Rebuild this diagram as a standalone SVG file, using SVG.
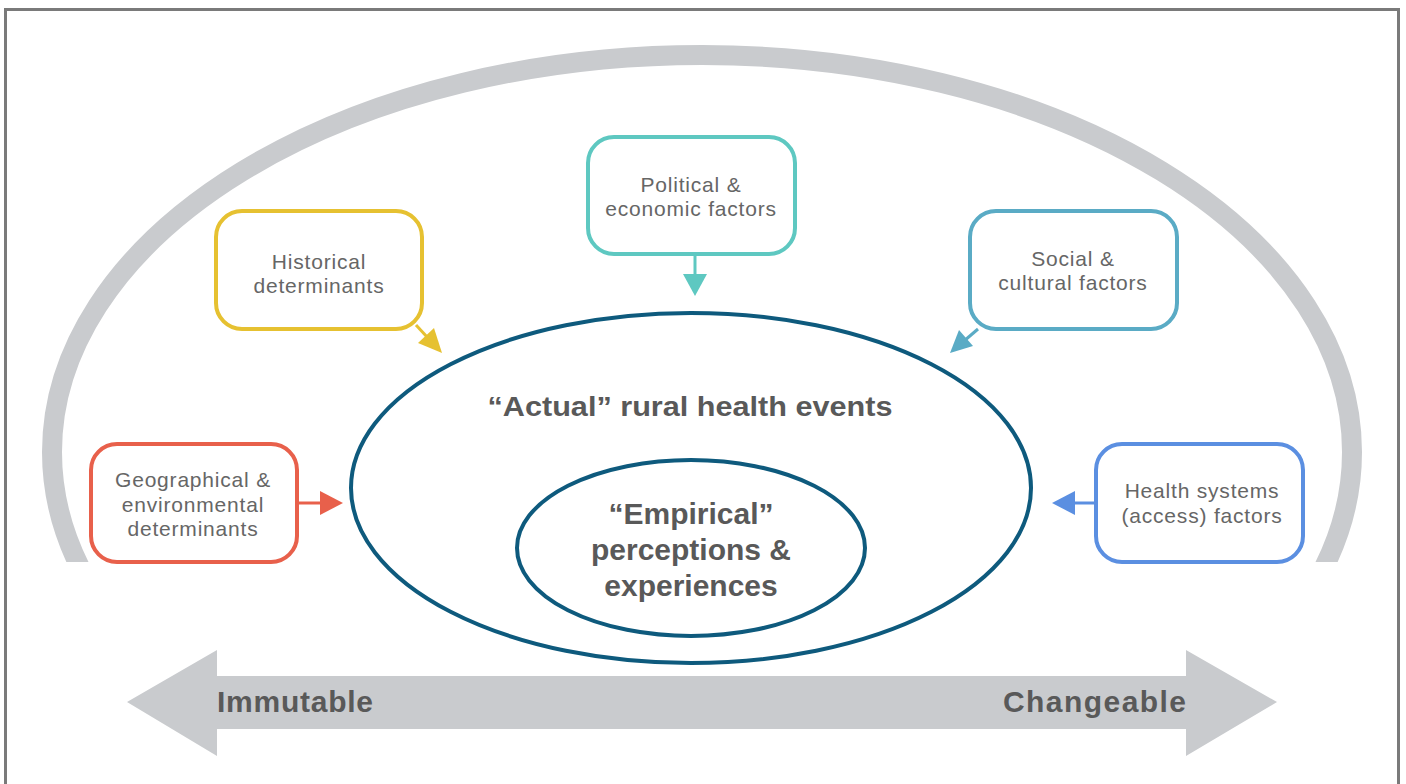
<svg xmlns="http://www.w3.org/2000/svg" width="1406" height="784" viewBox="0 0 1406 784">
<style>
.box{fill:#fff;stroke-width:4}
.lbl{font-family:"Liberation Sans",Arial,sans-serif;font-size:21px;letter-spacing:0.8px;fill:#666;text-anchor:middle}
.big{font-family:"Liberation Sans",Arial,sans-serif;font-weight:bold;fill:#595959;text-anchor:middle}
.start{text-anchor:start}
</style>
<defs>
<clipPath id="arcClip"><rect x="0" y="0" width="1406" height="562"/></clipPath>
</defs>
<rect x="0" y="0" width="1406" height="784" fill="#fff"/>
<rect x="5.5" y="9.5" width="1393" height="800" fill="none" stroke="#7a7a7a" stroke-width="3"/>
<g id="arc">
<ellipse cx="702" cy="452" rx="650" ry="397" fill="none" stroke="#c9cbce" stroke-width="20" clip-path="url(#arcClip)"/>
</g>
<g id="scale-arrow">
<polygon points="127,702 217,650 217,676 1186,676 1186,650 1277,702 1186,756 1186,729 217,729 217,756" fill="#c9cbce"/>
<text class="big start" x="217" y="712" font-size="30" textLength="156">Immutable</text>
<text class="big start" x="1003" y="712" font-size="30" textLength="183">Changeable</text>
</g>
<g id="actual">
<ellipse cx="691" cy="488" rx="340" ry="175" fill="none" stroke="#0e5a7d" stroke-width="4"/>
<text class="big" x="690" y="416" font-size="27" textLength="405" lengthAdjust="spacingAndGlyphs">“Actual” rural health events</text>
</g>
<g id="empirical">
<ellipse cx="691" cy="548" rx="174" ry="88" fill="none" stroke="#0e5a7d" stroke-width="4"/>
<text class="big" x="691" y="524" font-size="30">“Empirical”</text>
<text class="big" x="691" y="560" font-size="30">perceptions &amp;</text>
<text class="big" x="691" y="596" font-size="30">experiences</text>
</g>
<g id="historical">
<rect class="box" x="216" y="211" width="206" height="118" rx="26" stroke="#e6c131"/>
<text class="lbl" x="319" y="269">Historical</text>
<text class="lbl" x="319" y="293">determinants</text>
</g>
<g id="political">
<rect class="box" x="588" y="137" width="207" height="117" rx="26" stroke="#5ec8c1"/>
<text class="lbl" x="691" y="192">Political &amp;</text>
<text class="lbl" x="691" y="216">economic factors</text>
</g>
<g id="social">
<rect class="box" x="970" y="211" width="207" height="118" rx="26" stroke="#5aabc5"/>
<text class="lbl" x="1073" y="266">Social &amp;</text>
<text class="lbl" x="1073" y="290">cultural factors</text>
</g>
<g id="geographical">
<rect class="box" x="91" y="444" width="206" height="118" rx="26" stroke="#e8604b"/>
<text class="lbl" x="193" y="487">Geographical &amp;</text>
<text class="lbl" x="193" y="512">environmental</text>
<text class="lbl" x="193" y="536">determinants</text>
</g>
<g id="health">
<rect class="box" x="1096" y="444" width="207" height="118" rx="26" stroke="#5b8fe1"/>
<text class="lbl" x="1202" y="498">Health systems</text>
<text class="lbl" x="1202" y="523">(access) factors</text>
</g>
<g id="connectors" stroke-width="3">
<line x1="416" y1="325" x2="428" y2="338" stroke="#e6c131"/>
<polygon points="442,353 418,343 434,328" fill="#e6c131"/>
<line x1="695" y1="256" x2="695" y2="276" stroke="#5ec8c1"/>
<polygon points="695,296 683,274 707,274" fill="#5ec8c1"/>
<line x1="978" y1="329" x2="964" y2="341" stroke="#5aabc5"/>
<polygon points="950,353 959,330 973,346" fill="#5aabc5"/>
<line x1="299" y1="503" x2="322" y2="503" stroke="#e8604b"/>
<polygon points="343,503 320,491 320,515" fill="#e8604b"/>
<line x1="1094" y1="503" x2="1072" y2="503" stroke="#5b8fe1"/>
<polygon points="1052,503 1075,491 1075,515" fill="#5b8fe1"/>
</g>
</svg>
